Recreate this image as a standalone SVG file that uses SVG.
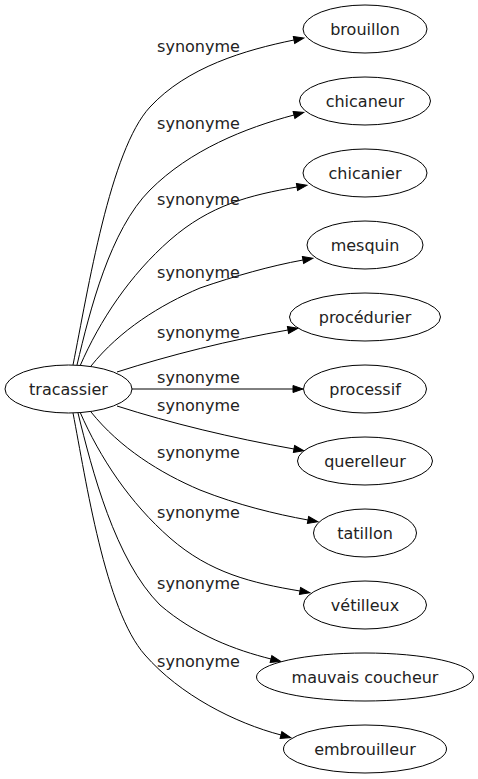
<svg xmlns="http://www.w3.org/2000/svg" width="478" height="779" viewBox="0 0 478 779">
<style>
.node ellipse{fill:#fff;stroke:#000;stroke-width:1}
text{font-family:"DejaVu Sans","Liberation Sans",sans-serif;font-size:16px;fill:#222;text-anchor:middle}
.edge path{fill:none;stroke:#000;stroke-width:1}
</style>
<defs>
<marker id="arr" markerUnits="userSpaceOnUse" markerWidth="11" markerHeight="8" refX="0" refY="3.5" orient="auto" viewBox="0 0 11 8" overflow="visible">
<path d="M0,0 L10,3.5 L0,7 z" fill="#000" stroke="#000" stroke-width="1"/>
</marker>
</defs>
<rect width="478" height="779" fill="#fff"/>
<g id="edges" class="edge">
<path d="M73,365 C88,290 110,150 150,107 C187,67 245,50 294,40" marker-end="url(#arr)"/>
<path d="M77,365 C90,310 110,230 150,190 C190,150 245,128 294,115" marker-end="url(#arr)"/>
<path d="M80,366 C100,320 130,275 170,240 C210,205 250,195 297,187" marker-end="url(#arr)"/>
<path d="M91,366 C120,330 160,305 200,288 C235,276 270,266 303,260" marker-end="url(#arr)"/>
<path d="M117,372 C170,355 230,340 288,330" marker-end="url(#arr)"/>
<path d="M132,389 L293,389" marker-end="url(#arr)"/>
<path d="M117,406 C170,423 232,438 294,449" marker-end="url(#arr)"/>
<path d="M91,412 C120,448 160,473 200,490 C238,505 275,514 308,520" marker-end="url(#arr)"/>
<path d="M80,412 C100,458 130,503 170,538 C210,573 252,583 300,591" marker-end="url(#arr)"/>
<path d="M78,413 C92,470 115,560 160,605 C195,635 235,650 271,659" marker-end="url(#arr)"/>
<path d="M73,413 C86,480 105,610 145,655 C180,695 235,723 281,735" marker-end="url(#arr)"/>
<text x="198.5" y="52">synonyme</text>
<text x="198.5" y="129">synonyme</text>
<text x="198.5" y="205">synonyme</text>
<text x="198.5" y="278">synonyme</text>
<text x="198.5" y="338">synonyme</text>
<text x="198.5" y="383">synonyme</text>
<text x="198.5" y="411">synonyme</text>
<text x="198.5" y="458">synonyme</text>
<text x="198.5" y="518">synonyme</text>
<text x="198.5" y="589">synonyme</text>
<text x="198.5" y="667">synonyme</text>
</g>
<g id="tracassier" class="node"><ellipse cx="68.5" cy="389" rx="63.5" ry="24"/><text x="68.5" y="394.5">tracassier</text></g>
<g id="brouillon" class="node"><ellipse cx="365" cy="29" rx="62" ry="24"/><text x="365" y="34.5">brouillon</text></g>
<g id="chicaneur" class="node"><ellipse cx="365" cy="101" rx="65.5" ry="24"/><text x="365" y="106.5">chicaneur</text></g>
<g id="chicanier" class="node"><ellipse cx="365" cy="173" rx="62" ry="24"/><text x="365" y="178.5">chicanier</text></g>
<g id="mesquin" class="node"><ellipse cx="365" cy="245" rx="58" ry="24"/><text x="365" y="250.5">mesquin</text></g>
<g id="procedurier" class="node"><ellipse cx="365" cy="317" rx="75.5" ry="24"/><text x="365" y="322.5">procédurier</text></g>
<g id="processif" class="node"><ellipse cx="365" cy="389" rx="61.5" ry="24"/><text x="365" y="394.5">processif</text></g>
<g id="querelleur" class="node"><ellipse cx="365" cy="461" rx="67.5" ry="24"/><text x="365" y="466.5">querelleur</text></g>
<g id="tatillon" class="node"><ellipse cx="365" cy="533" rx="51.5" ry="24"/><text x="365" y="538.5">tatillon</text></g>
<g id="vetilleux" class="node"><ellipse cx="365" cy="605" rx="61.5" ry="24"/><text x="365" y="610.5">vétilleux</text></g>
<g id="mauvais_coucheur" class="node"><ellipse cx="365" cy="677" rx="108.5" ry="24"/><text x="365" y="682.5">mauvais coucheur</text></g>
<g id="embrouilleur" class="node"><ellipse cx="365" cy="749" rx="81.5" ry="24"/><text x="365" y="754.5">embrouilleur</text></g>
</svg>
